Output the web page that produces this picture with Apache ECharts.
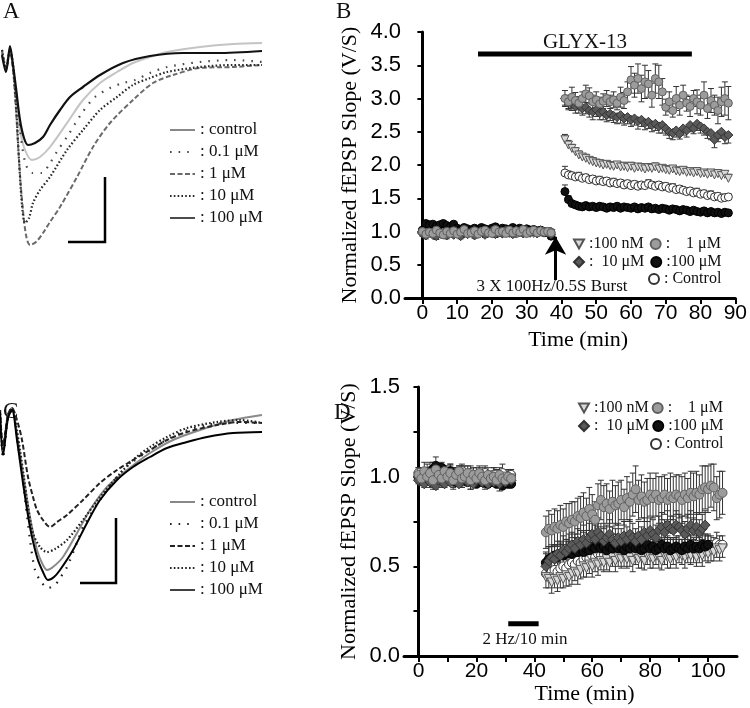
<!DOCTYPE html>
<html><head><meta charset="utf-8">
<script src="https://cdn.jsdelivr.net/npm/echarts@6/dist/echarts.min.js"></script>
<style>html,body{margin:0;padding:0;background:#fff}#c{width:750px;height:708px}</style>
</head><body><div id="c"></div>
<script>
// ===== Panel A traces: [time (ms), amplitude (mV)] =====
const traceA_control = [[0.08,-0.17],[0.24,-0.35],[0.40,-0.13],[0.52,-0.33],[0.64,-0.60],[0.80,-0.95],[1.00,-1.15],[1.28,-1.25],[1.60,-1.22],[2.00,-1.12],[2.68,-0.88],[3.32,-0.65],[4.00,-0.48],[4.68,-0.37],[5.32,-0.28],[6.00,-0.22],[6.68,-0.17],[8.00,-0.12],[9.32,-0.09],[10.48,-0.08]];
const traceA_01uM = [[0.08,-0.15],[0.24,-0.33],[0.40,-0.15],[0.56,-0.40],[0.72,-0.75],[0.88,-1.10],[1.04,-1.30],[1.28,-1.38],[1.68,-1.38],[2.00,-1.28],[2.32,-1.15],[2.68,-1.02],[3.28,-0.78],[3.80,-0.62],[4.40,-0.53],[4.92,-0.48],[5.40,-0.45],[6.00,-0.38],[6.68,-0.32],[8.00,-0.27],[9.32,-0.25],[10.48,-0.27]];
const traceA_1uM = [[0.08,-0.15],[0.24,-0.33],[0.40,-0.17],[0.52,-0.35],[0.64,-0.75],[0.76,-1.25],[0.88,-1.65],[1.04,-2.00],[1.20,-2.10],[1.44,-2.07],[1.72,-1.98],[2.00,-1.87],[2.40,-1.72],[3.08,-1.42],[3.72,-1.12],[4.40,-0.88],[5.32,-0.65],[6.12,-0.48],[6.92,-0.40],[8.00,-0.33],[9.32,-0.32],[10.48,-0.30]];
const traceA_10uM = [[0.08,-0.15],[0.24,-0.33],[0.40,-0.15],[0.52,-0.30],[0.64,-0.70],[0.76,-1.25],[0.88,-1.70],[1.00,-1.88],[1.16,-1.83],[1.32,-1.68],[1.60,-1.55],[2.00,-1.42],[2.68,-1.15],[3.32,-0.95],[4.00,-0.75],[4.68,-0.62],[5.32,-0.50],[6.00,-0.43],[6.68,-0.37],[8.00,-0.32],[9.32,-0.30],[10.48,-0.30]];
const traceA_100uM = [[0.08,-0.20],[0.24,-0.37],[0.40,-0.11],[0.52,-0.30],[0.64,-0.53],[0.80,-0.85],[0.96,-1.03],[1.12,-1.10],[1.40,-1.08],[1.72,-1.02],[2.00,-0.90],[2.40,-0.75],[2.80,-0.62],[3.32,-0.52],[4.00,-0.40],[4.92,-0.28],[6.00,-0.21],[7.32,-0.18],[8.68,-0.18],[10.48,-0.16]];

// ===== Panel C traces =====
const traceC_control = [[0,-0.10],[0.12,-0.50],[0.32,-0.15],[0.48,-0.08],[0.68,-0.35],[0.92,-0.73],[1.2,-1.17],[1.48,-1.50],[1.68,-1.63],[1.88,-1.70],[2.12,-1.67],[2.52,-1.57],[3.08,-1.33],[3.6,-1.10],[4.28,-0.87],[5.08,-0.70],[6.0,-0.53],[6.92,-0.40],[8.0,-0.30],[9.32,-0.20],[10.48,-0.15]];
const traceC_01uM = [[0,-0.10],[0.12,-0.58],[0.32,-0.18],[0.48,-0.10],[0.72,-0.45],[0.96,-0.90],[1.2,-1.40],[1.4,-1.70],[1.6,-1.80],[1.92,-1.88],[2.2,-1.85],[2.4,-1.78],[2.68,-1.67],[3.12,-1.40],[3.32,-1.27],[4.0,-1.00],[4.92,-0.70],[6.0,-0.50],[7.2,-0.33],[8.28,-0.25],[9.32,-0.23],[10.48,-0.23]];
const traceC_1uM = [[0,-0.10],[0.12,-0.45],[0.32,-0.15],[0.48,-0.08],[0.68,-0.20],[0.88,-0.40],[1.12,-0.77],[1.32,-0.97],[1.48,-1.10],[1.72,-1.20],[2.0,-1.27],[2.28,-1.22],[2.68,-1.15],[3.32,-1.00],[4.0,-0.83],[4.68,-0.70],[5.32,-0.60],[6.0,-0.50],[6.68,-0.40],[7.48,-0.32],[8.68,-0.25],[9.6,-0.22],[10.48,-0.23]];
const traceC_10uM = [[0,-0.10],[0.12,-0.50],[0.32,-0.15],[0.48,-0.08],[0.64,-0.25],[0.8,-0.50],[0.96,-0.78],[1.08,-1.00],[1.32,-1.33],[1.6,-1.47],[1.88,-1.52],[2.2,-1.49],[2.68,-1.40],[3.32,-1.20],[4.0,-0.97],[4.68,-0.77],[5.32,-0.60],[6.0,-0.47],[6.68,-0.37],[7.48,-0.28],[8.68,-0.22],[9.6,-0.20],[10.48,-0.23]];
const traceC_100uM = [[0,-0.12],[0.12,-0.55],[0.32,-0.18],[0.48,-0.10],[0.68,-0.40],[0.92,-0.83],[1.2,-1.27],[1.48,-1.57],[1.72,-1.72],[1.92,-1.80],[2.16,-1.77],[2.4,-1.70],[2.92,-1.50],[3.48,-1.23],[4.0,-1.00],[4.68,-0.80],[5.32,-0.67],[6.0,-0.57],[6.68,-0.48],[7.48,-0.42],[8.28,-0.37],[9.32,-0.33],[10.48,-0.32]];

// ===== Panel B: time (min), normalized slope, SEM =====
const timeB = [0,1,2,3,4,5,6,7,8,9,10,11,12,13,14,15,16,17,18,19,20,21,22,23,24,25,26,27,28,29,30,31,32,33,34,35,36,37,
  41,42,43,44,45,46,47,48,49,50,51,52,53,54,55,56,57,58,59,60,61,62,63,64,65,66,67,68,69,70,71,72,73,74,75,76,77,78,79,80,81,82,83,84,85,86,87,88];
const xTicksB = [0,10,20,30,40,50,60,70,80,90];
const yTicksB = [0,0.5,1,1.5,2,2.5,3,3.5,4];
const B_100nM = [0.98,1.00,0.97,1.01,0.99,0.96,1.00,0.98,1.02,0.97,0.99,1.01,0.96,0.98,1.00,0.97,1.01,0.99,0.98,1.02,0.97,1.00,0.99,0.96,1.01,0.98,1.00,0.97,1.02,0.99,0.98,1.00,0.97,1.01,0.99,0.98,1.00,0.97,
  2.38,2.30,2.25,2.20,2.15,2.12,2.10,2.07,2.05,2.03,2.02,2.00,2.01,1.99,1.98,2.00,1.97,1.98,1.96,1.98,1.95,1.97,1.96,1.94,1.96,1.95,1.97,1.94,1.95,1.93,1.92,1.94,1.91,1.90,1.92,1.89,1.90,1.88,1.90,1.87,1.88,1.86,1.88,1.85,1.87,1.84,1.86,1.80];
const B_100nM_sem = [.04,.03,.05,.04,.03,.04,.05,.03,.04,.04,.03,.05,.04,.03,.04,.05,.04,.03,.04,.04,.05,.03,.04,.04,.03,.05,.04,.04,.03,.04,.05,.04,.03,.04,.04,.03,.05,.04,
  .08,.07,.06,.06,.06,.05,.06,.05,.06,.05,.05,.06,.05,.05,.06,.05,.05,.06,.05,.06,.05,.05,.06,.05,.06,.05,.06,.05,.05,.06,.05,.05,.06,.05,.05,.06,.05,.05,.06,.05,.05,.06,.05,.05,.06,.05,.05,.06];
const B_1uM = [1.00,0.96,0.99,0.97,1.02,0.98,0.95,1.00,0.97,1.01,0.96,0.99,1.03,0.97,0.98,1.01,0.96,1.00,1.02,0.98,0.97,1.03,0.99,1.00,0.97,1.02,0.98,1.01,0.99,1.03,0.97,1.00,1.02,0.98,1.01,0.99,1.00,0.98,
  3.00,2.95,3.02,2.97,2.93,3.00,3.07,3.04,2.95,2.98,2.92,2.96,3.00,2.95,2.98,2.93,3.02,2.97,3.10,3.28,3.20,3.30,3.15,3.25,3.22,3.05,3.30,3.25,3.10,2.87,2.95,2.82,3.00,2.90,3.05,2.93,2.88,3.00,2.95,2.90,3.05,2.85,2.97,2.90,2.82,2.95,3.00,2.93];
const B_1uM_sem = [.05,.04,.04,.05,.03,.04,.05,.04,.04,.03,.05,.04,.04,.05,.03,.04,.04,.05,.04,.03,.04,.05,.04,.04,.03,.05,.04,.04,.05,.03,.04,.04,.05,.04,.03,.04,.05,.04,
  .12,.10,.15,.12,.10,.10,.13,.12,.10,.12,.10,.11,.12,.10,.12,.10,.15,.12,.15,.20,.18,.22,.20,.25,.20,.18,.22,.25,.20,.12,.15,.10,.18,.15,.15,.12,.15,.12,.18,.15,.20,.15,.18,.15,.20,.22,.25,.25];
const B_10uM = [0.97,0.94,0.99,0.95,0.93,0.98,0.96,0.94,0.99,0.95,0.97,0.93,0.98,0.96,0.99,0.94,0.97,1.00,0.95,0.98,1.01,0.96,0.99,0.97,1.02,0.98,0.96,1.01,0.99,0.97,1.02,0.98,1.00,0.97,1.01,0.99,0.98,0.96,
  3.00,2.95,2.92,2.88,2.90,2.85,2.87,2.82,2.80,2.83,2.78,2.80,2.75,2.77,2.74,2.72,2.75,2.70,2.72,2.68,2.70,2.66,2.68,2.63,2.65,2.60,2.62,2.58,2.60,2.55,2.50,2.48,2.52,2.47,2.55,2.52,2.60,2.55,2.62,2.58,2.55,2.50,2.48,2.38,2.45,2.50,2.42,2.45];
const B_10uM_sem = [.04,.05,.04,.03,.05,.04,.04,.05,.03,.04,.05,.04,.04,.03,.05,.04,.04,.05,.04,.03,.04,.05,.04,.04,.05,.03,.04,.04,.05,.04,.03,.04,.05,.04,.04,.03,.04,.05,
  .10,.12,.10,.10,.12,.10,.10,.10,.12,.10,.10,.12,.10,.10,.10,.10,.12,.10,.10,.10,.10,.12,.10,.10,.10,.10,.10,.10,.12,.10,.10,.10,.10,.08,.10,.10,.10,.08,.10,.10,.10,.10,.10,.12,.10,.10,.10,.12];
const B_100uM = [1.02,1.12,1.10,1.11,1.08,1.10,1.12,1.09,1.07,1.11,1.05,1.03,1.06,1.04,1.02,1.05,1.03,1.06,1.04,1.02,1.05,1.07,1.03,1.05,1.04,1.02,1.06,1.03,1.05,1.01,1.04,1.02,1.03,1.00,1.02,0.99,0.98,0.93,
  1.60,1.48,1.42,1.40,1.38,1.37,1.39,1.37,1.38,1.36,1.38,1.37,1.35,1.37,1.36,1.38,1.35,1.37,1.36,1.35,1.37,1.34,1.36,1.35,1.37,1.34,1.35,1.33,1.35,1.34,1.32,1.34,1.33,1.31,1.33,1.32,1.30,1.32,1.30,1.29,1.31,1.28,1.30,1.28,1.29,1.27,1.29,1.28];
const B_100uM_sem = [.03,.04,.03,.04,.03,.03,.04,.03,.04,.03,.03,.04,.03,.03,.04,.03,.04,.03,.03,.04,.03,.03,.04,.03,.04,.03,.03,.04,.03,.03,.04,.03,.04,.03,.03,.04,.03,.04,
  .10,.06,.04,.04,.04,.03,.04,.04,.03,.04,.04,.03,.04,.04,.03,.04,.04,.03,.04,.04,.03,.04,.04,.03,.04,.04,.03,.04,.04,.03,.04,.04,.03,.04,.04,.03,.04,.04,.03,.04,.04,.03,.04,.04,.03,.04,.04,.03];
const B_control = [1.00,0.98,1.02,0.97,1.00,1.03,0.98,1.01,0.99,1.02,0.97,1.00,1.03,0.99,1.01,0.98,1.02,1.00,0.97,1.01,0.99,1.03,0.98,1.00,1.02,0.99,1.01,0.97,1.00,1.02,0.98,1.01,0.99,1.00,1.02,0.98,1.00,0.99,
  1.88,1.85,1.84,1.82,1.83,1.80,1.81,1.78,1.79,1.76,1.77,1.75,1.76,1.73,1.74,1.72,1.73,1.70,1.72,1.69,1.71,1.68,1.70,1.69,1.72,1.70,1.68,1.70,1.67,1.68,1.65,1.66,1.63,1.64,1.62,1.60,1.61,1.58,1.59,1.56,1.57,1.54,1.55,1.52,1.53,1.50,1.51,1.52];
const B_control_sem = [.04,.03,.04,.05,.04,.03,.04,.04,.05,.03,.04,.04,.03,.05,.04,.04,.03,.04,.05,.04,.03,.04,.04,.05,.03,.04,.04,.03,.05,.04,.04,.03,.04,.05,.04,.03,.04,.04,
  .10,.06,.05,.05,.06,.05,.05,.06,.05,.05,.06,.05,.05,.05,.06,.05,.05,.06,.05,.05,.05,.06,.05,.05,.06,.05,.05,.05,.06,.05,.05,.06,.05,.05,.05,.06,.05,.05,.06,.05,.05,.05,.06,.05,.05,.06,.05,.05];
const glyxSpan = [16, 77.5], glyxLevel = 3.67;
const burstTime = 38.3, burstArrow = [0.27, 0.92];

// ===== Panel D =====
const timeD = [0,1,2,3,4,5,6,7,8,9,10,11,12,13,14,15,16,17,18,19,20,21,22,23,24,25,26,27,28,29,30,31,32,
  44,45,46,47,48,49,50,51,52,53,54,55,56,57,58,59,60,61,62,63,64,65,66,67,68,69,70,71,72,73,74,75,76,77,78,79,80,81,82,83,84,85,86,87,88,89,90,91,92,93,94,95,96,97,98,99,100,101,102,103,104,105];
const xTicksD = [0,20,40,60,80,100];
const xMinorD = [0,10,20,30,40,50,60,70,80,90,100];
const yTicksD = [0,0.5,1,1.5];
const D_100nM = [1.00,1.02,0.98,1.01,0.99,1.03,0.97,1.00,1.02,0.98,1.01,0.99,0.97,1.00,1.02,0.98,0.99,1.01,0.97,1.00,0.98,1.01,0.99,0.97,1.00,0.98,0.99,1.01,0.97,0.99,1.00,0.98,0.99,
  0.44,0.43,0.41,0.43,0.42,0.44,0.43,0.45,0.44,0.46,0.47,0.46,0.48,0.50,0.49,0.51,0.50,0.52,0.51,0.53,0.52,0.54,0.52,0.55,0.53,0.55,0.54,0.56,0.54,0.55,0.53,0.56,0.54,0.55,0.53,0.56,0.55,0.54,0.56,0.55,0.53,0.56,0.55,0.54,0.56,0.55,0.57,0.56,0.55,0.57,0.56,0.58,0.55,0.57,0.56,0.58,0.57,0.59,0.58,0.60,0.59,0.60];
const D_100nM_sem = [.04,.05,.04,.03,.05,.04,.04,.05,.03,.04,.05,.04,.04,.03,.05,.04,.04,.05,.04,.03,.04,.05,.04,.04,.05,.03,.04,.04,.05,.04,.03,.04,.05,
  .06,.05,.06,.05,.06,.06,.05,.06,.05,.06,.05,.06,.05,.06,.05,.05,.06,.05,.06,.05,.05,.06,.05,.05,.06,.05,.05,.06,.05,.05,.06,.05,.05,.06,.05,.05,.06,.05,.05,.06,.05,.05,.06,.05,.05,.06,.05,.05,.06,.05,.05,.06,.05,.05,.06,.05,.05,.06,.05,.05,.06,.05];
const D_1uM = [1.01,0.99,1.03,1.00,1.02,0.98,1.04,1.01,0.99,1.03,1.00,1.02,0.98,1.01,1.03,0.99,1.00,1.02,0.98,1.01,0.99,1.02,1.00,0.98,1.01,0.99,1.00,0.98,1.01,0.99,0.98,1.00,0.99,
  0.69,0.71,0.70,0.72,0.71,0.73,0.72,0.75,0.74,0.76,0.75,0.78,0.77,0.80,0.78,0.82,0.79,0.76,0.84,0.87,0.83,0.85,0.82,0.86,0.84,0.85,0.87,0.83,0.88,0.86,0.90,0.93,0.87,0.89,0.86,0.87,0.90,0.88,0.90,0.87,0.88,0.90,0.87,0.89,0.88,0.90,0.89,0.87,0.90,0.88,0.91,0.89,0.91,0.90,0.93,0.94,0.93,0.95,0.94,0.88,0.90,0.91];
const D_1uM_sem = [.04,.04,.05,.04,.03,.05,.04,.04,.05,.03,.04,.05,.04,.04,.03,.05,.04,.04,.05,.04,.03,.04,.05,.04,.04,.03,.05,.04,.04,.05,.04,.03,.04,
  .09,.10,.09,.10,.10,.11,.10,.10,.11,.10,.11,.10,.12,.11,.10,.12,.11,.10,.12,.11,.12,.11,.10,.12,.11,.12,.11,.10,.12,.11,.12,.13,.11,.12,.11,.12,.12,.11,.12,.13,.12,.11,.12,.13,.12,.11,.12,.13,.12,.11,.12,.13,.12,.11,.13,.12,.13,.12,.13,.12,.13,.12];
const D_10uM = [0.98,1.00,0.96,0.99,0.97,1.01,0.95,0.98,1.00,0.96,0.99,0.97,1.00,0.98,0.96,0.99,1.01,0.97,0.99,0.96,0.98,1.00,0.97,0.99,0.96,0.98,0.97,0.99,0.96,0.98,0.97,0.99,0.98,
  0.50,0.53,0.55,0.54,0.57,0.56,0.59,0.58,0.60,0.62,0.60,0.64,0.62,0.65,0.63,0.66,0.68,0.65,0.69,0.67,0.64,0.66,0.68,0.65,0.63,0.66,0.64,0.67,0.65,0.68,0.66,0.64,0.67,0.65,0.69,0.67,0.70,0.68,0.66,0.70,0.72,0.69,0.73,0.71,0.70,0.73,0.72,0.70,0.68,0.71,0.73,0.70,0.72,0.69,0.71,0.73];
const D_10uM_sem = [.04,.05,.04,.04,.03,.05,.04,.04,.05,.04,.03,.04,.05,.04,.04,.03,.05,.04,.04,.05,.04,.03,.04,.05,.04,.04,.03,.05,.04,.04,.05,.04,.04,
  .07,.08,.07,.08,.07,.08,.08,.07,.08,.07,.08,.07,.08,.08,.07,.08,.07,.08,.08,.07,.08,.07,.08,.07,.08,.08,.07,.08,.07,.08,.08,.07,.08,.07,.08,.08,.07,.08,.07,.08,.08,.07,.08,.07,.08,.08,.07,.08,.07,.08,.08,.07,.08,.07,.08,.08];
const D_100uM = [1.00,1.01,0.99,1.02,1.00,1.04,1.06,1.03,1.05,0.98,1.00,1.03,1.01,0.97,0.99,1.01,0.98,0.97,1.00,0.98,0.96,0.99,0.97,0.98,0.96,0.99,0.97,0.96,0.98,0.95,0.97,0.96,0.96,
  0.52,0.54,0.55,0.56,0.55,0.57,0.56,0.57,0.58,0.57,0.59,0.58,0.60,0.58,0.60,0.59,0.61,0.60,0.62,0.60,0.61,0.59,0.61,0.60,0.62,0.60,0.61,0.59,0.61,0.60,0.62,0.60,0.61,0.59,0.60,0.62,0.60,0.61,0.59,0.60,0.62,0.60,0.61,0.59,0.60,0.61,0.60,0.59,0.61,0.60,0.62,0.60,0.61,0.60,0.62,0.61,0.62];
const D_100uM_sem = [.04,.03,.04,.05,.04,.04,.05,.04,.03,.04,.05,.04,.04,.03,.04,.05,.04,.04,.03,.05,.04,.04,.05,.03,.04,.04,.05,.04,.03,.04,.05,.04,.04,
  .06,.07,.06,.06,.07,.06,.06,.07,.06,.06,.07,.06,.06,.07,.06,.06,.07,.06,.06,.07,.06,.06,.07,.06,.06,.07,.06,.06,.07,.06,.06,.07,.06,.06,.07,.06,.06,.07,.06,.06,.07,.06,.06,.07,.06,.06,.07,.06,.06,.07,.06,.06,.07,.06,.06,.07,.06];
const D_control = [1.02,1.00,1.01,0.99,1.03,1.00,0.98,1.02,1.00,1.01,0.99,1.02,1.00,0.98,1.01,1.03,0.99,1.00,1.02,0.98,1.01,0.99,1.00,1.02,0.98,1.00,1.01,0.99,1.00,1.02,0.99,1.00,1.01,
  0.46,0.45,0.47,0.48,0.47,0.49,0.50,0.49,0.51,0.52,0.51,0.53,0.52,0.54,0.55,0.54,0.56,0.55,0.57,0.56,0.57,0.58,0.57,0.58,0.57,0.59,0.58,0.57,0.59,0.58,0.59,0.58,0.60,0.59,0.58,0.60,0.59,0.60,0.58,0.59,0.60,0.59,0.61,0.60,0.59,0.61,0.60,0.59,0.61,0.60,0.61,0.60,0.62,0.61,0.60,0.62,0.61,0.62,0.61,0.63,0.62,0.62];
const D_control_sem = [.03,.04,.04,.03,.05,.04,.03,.04,.04,.05,.03,.04,.04,.03,.05,.04,.04,.03,.04,.05,.04,.03,.04,.04,.05,.03,.04,.04,.03,.05,.04,.04,.03,
  .06,.05,.06,.05,.05,.06,.05,.05,.06,.05,.05,.06,.05,.05,.06,.05,.05,.06,.05,.05,.06,.05,.05,.06,.05,.05,.06,.05,.05,.06,.05,.05,.06,.05,.05,.06,.05,.05,.06,.05,.05,.06,.05,.05,.06,.05,.05,.06,.05,.05,.06,.05,.05,.06,.05,.05,.06,.05,.05,.06,.05,.05];
const stimSpan = [31, 41.5], stimLevel = 0.18;

// ===== styling =====
const SERIF = '"Liberation Serif","Times New Roman",serif';
const SANS = '"Liberation Sans",Arial,sans-serif';
const TRI = 'path://M0,0L10,0L5,9Z';
const groupStyle = {
  'Control': {symbol:'circle', fill:'#ffffff', stroke:'#333333'},
  '100 nM': {symbol:TRI, fill:'#d9d9d9', stroke:'#555555'},
  '100 μM': {symbol:'circle', fill:'#111111', stroke:'#000000'},
  '10 μM': {symbol:'diamond', fill:'#5a5a5a', stroke:'#333333'},
  '1 μM': {symbol:'circle', fill:'#9c9c9c', stroke:'#606060'}
};
const legendText = {'100 nM':':100 nM','1 μM':':    1 μM','10 μM':':  10 μM','100 μM':':100 μM','Control':': Control'};
const traceStyle = {
  'control': {type:'solid', width:2},
  '0.1 μM': {type:[1.6,7], width:2.2},
  '1 μM': {type:[5,2.5], width:2},
  '10 μM': {type:[1.6,2.2], width:2.2},
  '100 μM': {type:'solid', width:2}
};

const series = [];
function addTrace(prefix, label, data, color, xi, w){
  const st = traceStyle[label];
  series.push({type:'line', name: prefix + label, xAxisIndex:xi, yAxisIndex:xi, data, symbol:'none', showSymbol:false,
    smooth:0.3, silent:true, lineStyle:{color, width: w || st.width, type: st.type, cap:'butt'}, itemStyle:{color}, z:2});
}
addTrace('A ', 'control', traceA_control, '#c4c4c4', 0);
addTrace('A ', '0.1 μM', traceA_01uM, '#4a4a4a', 0);
addTrace('A ', '1 μM', traceA_1uM, '#6a6a6a', 0);
addTrace('A ', '10 μM', traceA_10uM, '#2a2a2a', 0);
addTrace('A ', '100 μM', traceA_100uM, '#111111', 0, 2.2);
addTrace('C ', 'control', traceC_control, '#8a8a8a', 2);
addTrace('C ', '0.1 μM', traceC_01uM, '#222222', 2);
addTrace('C ', '1 μM', traceC_1uM, '#222222', 2);
addTrace('C ', '10 μM', traceC_10uM, '#222222', 2);
addTrace('C ', '100 μM', traceC_100uM, '#000000', 2);

function errBars(name, xi, data, dir){
  return {type:'custom', name, xAxisIndex:xi, yAxisIndex:xi, data, silent:true, z:3,
    encode:{x:0, y:1},
    renderItem(params, api){
      const x = api.value(0), y = api.value(1), e = api.value(2);
      const c = api.coord([x, y]);
      const ch = [];
      const add = s => {
        const p = api.coord([x, y + s*e]);
        ch.push({type:'line', shape:{x1:c[0], y1:c[1], x2:p[0], y2:p[1]}, style:{stroke:'#333', lineWidth:1}});
        ch.push({type:'line', shape:{x1:p[0]-3, y1:p[1], x2:p[0]+3, y2:p[1]}, style:{stroke:'#333', lineWidth:1}});
      };
      if (dir !== 'down') add(1);
      if (dir !== 'up') add(-1);
      return {type:'group', children:ch};
    }};
}
function addGroup(name, xi, times, vals, sem, dir, size){
  const g = groupStyle[name];
  series.push(errBars(name + ' err' + xi, xi, vals.map((v,i)=>[times[i], v, sem[i]]), dir));
  series.push({type:'scatter', name, xAxisIndex:xi, yAxisIndex:xi, symbol:g.symbol, symbolSize:size,
    data: vals.map((v,i)=>[times[i], v]), silent:true, z:3,
    itemStyle:{color:g.fill, borderColor:g.stroke, borderWidth:1, opacity:1}});
}
// panel B (drawing order bottom -> top)
addGroup('Control', 1, timeB, B_control, B_control_sem, 'up', 8);
addGroup('100 nM', 1, timeB, B_100nM, B_100nM_sem, 'up', 8);
addGroup('100 μM', 1, timeB, B_100uM, B_100uM_sem, 'up', 8);
addGroup('10 μM', 1, timeB, B_10uM, B_10uM_sem, 'down', 9);
addGroup('1 μM', 1, timeB, B_1uM, B_1uM_sem, 'both', 8);
// panel D
addGroup('Control', 3, timeD, D_control, D_control_sem, 'up', 9);
addGroup('100 nM', 3, timeD, D_100nM, D_100nM_sem, 'down', 9);
addGroup('100 μM', 3, timeD, D_100uM, D_100uM_sem, 'up', 9);
addGroup('10 μM', 3, timeD, D_10uM, D_10uM_sem, 'up', 10);
addGroup('1 μM', 3, timeD, D_1uM, D_1uM_sem, 'both', 9);

// drug bar, burst arrow, stimulation bar
series.push({type:'line', name:'GLYX-13 bar', xAxisIndex:1, yAxisIndex:1, silent:true, symbol:'none',
  data:[[glyxSpan[0], glyxLevel],[glyxSpan[1], glyxLevel]], lineStyle:{color:'#000', width:5, cap:'butt'}, z:5,
  markLine:{silent:true, symbol:['none','arrow'], symbolSize:[16,18], label:{show:false},
    lineStyle:{color:'#000', width:3, type:'solid'},
    data:[[{coord:[burstTime, burstArrow[0]]},{coord:[burstTime, burstArrow[1]]}]]}});
series.push({type:'line', name:'2 Hz bar', xAxisIndex:3, yAxisIndex:3, silent:true, symbol:'none',
  data:[[stimSpan[0], stimLevel],[stimSpan[1], stimLevel]], lineStyle:{color:'#000', width:5, cap:'butt'}, z:5});

const axisLineStyle = {show:true, lineStyle:{color:'#000', width:3}};
const hiddenAxis = (min,max) => ({type:'value', min, max, show:false});
const option = {
  animation:false,
  backgroundColor:'#fff',
  grid:[
    {left:0, top:35, width:265, height:215},
    {left:405, top:32, width:332, height:266},
    {left:0, top:400, width:265, height:200},
    {left:404, top:387, width:333, height:269}
  ],
  xAxis:[
    Object.assign(hiddenAxis(0,10.6), {gridIndex:0}),
    {type:'value', gridIndex:1, min:-5, max:90, axisLine:axisLineStyle, splitLine:{show:false},
      axisTick:{show:true, customValues:xTicksB, length:6, lineStyle:{color:'#000', width:2}},
      axisLabel:{customValues:xTicksB, fontFamily:SANS, fontSize:21, color:'#000', margin:5},
      name:'Time (min)', nameLocation:'middle', nameGap:31,
      nameTextStyle:{fontFamily:SERIF, fontSize:22, color:'#000', padding:[0,0,0,16]}},
    Object.assign(hiddenAxis(0,10.6), {gridIndex:2}),
    {type:'value', gridIndex:3, min:-5, max:110, axisLine:axisLineStyle, splitLine:{show:false},
      axisTick:{show:true, customValues:xMinorD, length:6, lineStyle:{color:'#000', width:2}},
      axisLabel:{customValues:xTicksD, fontFamily:SANS, fontSize:21, color:'#000', margin:5},
      name:'Time (min)', nameLocation:'middle', nameGap:24,
      nameTextStyle:{fontFamily:SERIF, fontSize:22, color:'#000', padding:[0,0,0,28]}}
  ],
  yAxis:[
    Object.assign(hiddenAxis(-2.15,0), {gridIndex:0}),
    {type:'value', gridIndex:1, min:0, max:4, interval:0.5, axisLine:axisLineStyle, splitLine:{show:false},
      axisTick:{show:true, length:5, lineStyle:{color:'#000', width:2}},
      axisLabel:{customValues:yTicksB, formatter:v=>v.toFixed(1), fontFamily:SANS, fontSize:22, color:'#000', margin:4},
      name:'Normalized fEPSP Slope (V/S)', nameLocation:'middle', nameGap:44,
      nameTextStyle:{fontFamily:SERIF, fontSize:22, color:'#000'}},
    Object.assign(hiddenAxis(-2,0), {gridIndex:2}),
    {type:'value', gridIndex:3, min:0, max:1.5, interval:0.25, axisLine:axisLineStyle, splitLine:{show:false},
      axisTick:{show:true, length:5, lineStyle:{color:'#000', width:2}},
      axisLabel:{customValues:yTicksD, formatter:v=>(Math.round(v*4)%2===0 ? v.toFixed(1) : ''), fontFamily:SANS, fontSize:22, color:'#000', margin:4},
      name:'Normalized fEPSP Slope (V/S)', nameLocation:'middle', nameGap:44,
      nameTextStyle:{fontFamily:SERIF, fontSize:22, color:'#000'}}
  ],
  legend: (function(){
    const noSym = {color:'transparent', borderColor:'transparent', borderWidth:0, opacity:0};
    const traceLegend = (prefix, top, ctrlColor) => ({
      orient:'vertical', left:164, top, itemWidth:25, itemHeight:10, itemGap:4, selectedMode:false,
      itemStyle: noSym,
      data:['control','0.1 μM','1 μM','10 μM','100 μM'].map(k => k === 'control'
        ? {name: prefix + k, lineStyle:{color:ctrlColor}, itemStyle: noSym}
        : {name: prefix + k, itemStyle: noSym, lineStyle: k === '100 μM' ? {width:1.5} : undefined}),
      formatter: n => ': ' + n.slice(2),
      textStyle:{fontFamily:SERIF, fontSize:17, color:'#111', lineHeight:18}
    });
    const richOf = w => ({t:{width:w, fontFamily:SERIF, fontSize:16, color:'#111'}});
    const rowLegend = (names, left, top, gap, w) => ({
      orient:'horizontal', left, top, itemWidth:10, itemHeight:10, itemGap:gap, selectedMode:false,
      data:names, formatter: n => '{t|' + legendText[n] + '}', textStyle:{rich:richOf(w), fontFamily:SERIF, fontSize:16}
    });
    return [
      traceLegend('A ', 116, '#888888'),
      traceLegend('C ', 488, '#888888'),
      rowLegend(['100 nM','1 μM'], 568, 231, 6, 54),
      rowLegend(['10 μM','100 μM'], 568, 249, 6, 54),
      rowLegend(['Control'], 643, 266, 0, 54),
      rowLegend(['100 nM','1 μM'], 573, 395, 3, 54),
      rowLegend(['10 μM','100 μM'], 573, 413, 3, 54),
      rowLegend(['Control'], 645, 431, 0, 54)
    ];
  })(),
  graphic:[
    {type:'text', left:3, top:0, style:{text:'A', font:'23px ' + SERIF, fill:'#111'}},
    {type:'text', left:336, top:0, style:{text:'B', font:'23px ' + SERIF, fill:'#111'}},
    {type:'text', left:3, top:400, style:{text:'C', font:'23px ' + SERIF, fill:'#111'}},
    {type:'text', left:334, top:401, style:{text:'D', font:'23px ' + SERIF, fill:'#111'}},
    {type:'text', x:585, y:42, style:{text:'GLYX-13', font:'21px ' + SERIF, fill:'#111', align:'center', verticalAlign:'middle'}},
    {type:'text', x:552, y:287, style:{text:'3 X 100Hz/0.5S Burst', font:'17px ' + SERIF, fill:'#111', align:'center', verticalAlign:'middle'}},
    {type:'text', x:525, y:640, style:{text:'2 Hz/10 min', font:'17px ' + SERIF, fill:'#111', align:'center', verticalAlign:'middle'}},
    {type:'polyline', shape:{points:[[105,177],[105,242],[68,242]]}, style:{stroke:'#000', lineWidth:2.5, fill:null}},
    {type:'polyline', shape:{points:[[116,518],[116,583],[80,583]]}, style:{stroke:'#000', lineWidth:2.5, fill:null}}
  ],
  series
};
const chart = echarts.init(document.getElementById('c'), null, {renderer:'canvas'});
chart.setOption(option);
</script>
</body></html>
